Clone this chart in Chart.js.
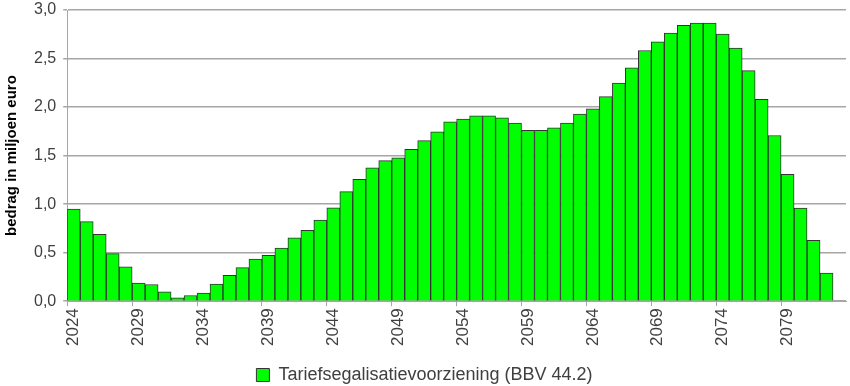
<!DOCTYPE html>
<html>
<head>
<meta charset="utf-8">
<script src="https://cdn.jsdelivr.net/npm/chart.js@4/dist/chart.umd.min.js"></script>
<style>
    html, body { margin: 0; padding: 0; background: #fff; }
    #wrap { width: 850px; height: 386px; }
</style>
</head>
<body>
<div id="wrap"><canvas id="chart"></canvas></div>
<script>
// Data
const years = [];
for (let y = 2024; y <= 2083; y++) years.push(String(y));

const reserveValues = [
    0.95, 0.82, 0.69, 0.49, 0.355, 0.186, 0.172, 0.096, 0.034, 0.059,
    0.083, 0.176, 0.266, 0.345, 0.434, 0.472, 0.548, 0.652, 0.731, 0.835,
    0.962, 1.128, 1.255, 1.373, 1.448, 1.476, 1.565, 1.655, 1.745, 1.848,
    1.876, 1.91, 1.91, 1.89, 1.834, 1.759, 1.759, 1.786, 1.834, 1.927,
    1.983, 2.107, 2.248, 2.403, 2.583, 2.672, 2.762, 2.841, 2.866, 2.866,
    2.752, 2.607, 2.376, 2.079, 1.707, 1.307, 0.959, 0.628, 0.29, null
];

const yTicks = [0, 0.5, 1, 1.5, 2, 2.5, 3];

const fontFamily = 'Liberation Sans, Arial, sans-serif';
const textColor = '#404040';
const gridColor = '#a6a6a6';

const ctx = document.getElementById('chart').getContext('2d');
new Chart(ctx, {
    type: 'bar',
    data: {
        labels: years,
        datasets: [{
            label: 'Tariefsegalisatievoorziening (BBV 44.2)',
            data: reserveValues,
            backgroundColor: '#00ff00',
            borderColor: '#333333',
            borderWidth: 1,
            categoryPercentage: 1.0,
            barPercentage: 1.0
        }]
    },
    options: {
        responsive: true,
        maintainAspectRatio: false,
        animation: false,
        layout: { padding: { top: 10, right: 4, left: 3, bottom: -8 } },
        plugins: {
            tooltip: { enabled: false },
            legend: {
                position: 'bottom',
                labels: {
                    boxWidth: 13,
                    boxHeight: 13,
                    padding: 1,
                    color: textColor,
                    font: { family: fontFamily, size: 18 }
                }
            }
        },
        scales: {
            x: {
                offset: true,
                border: { color: gridColor, width: 1 },
                grid: {
                    offset: true,
                    drawOnChartArea: false,
                    drawTicks: true,
                    tickLength: 5,
                    color: (c) => (c.index % 5 === 0 ? gridColor : 'rgba(0,0,0,0)')
                },
                ticks: {
                    autoSkip: false,
                    minRotation: 90,
                    maxRotation: 90,
                    padding: 2,
                    color: textColor,
                    font: { family: fontFamily, size: 17 },
                    callback: function (value, index) {
                        return index % 5 === 0 ? this.getLabelForValue(value) : '';
                    }
                },
                afterFit: (scale) => {
                    scale.paddingLeft = 0;
                    scale.paddingRight = 0;
                    scale.paddingTop = 0;
                    scale.paddingBottom = 0;
                    scale.height += 17;
                }
            },
            y: {
                min: 0,
                max: 3,
                afterBuildTicks: (axis) => { axis.ticks = yTicks.map(v => ({ value: v })); },
                afterFit: (scale) => { scale.paddingTop = 0; scale.paddingBottom = 0; },
                border: { color: gridColor, width: 1 },
                grid: { color: gridColor, lineWidth: 1.5, tickLength: 4 },
                ticks: {
                    color: textColor,
                    padding: 7,
                    font: { family: fontFamily, size: 16 },
                    callback: (v) => v.toFixed(1).replace('.', ',')
                },
                title: {
                    display: true,
                    text: 'bedrag in miljoen euro',
                    color: '#000000',
                    padding: { top: 0, bottom: 6 },
                    font: { family: fontFamily, size: 15, weight: 'bold' }
                }
            }
        }
    }
});
</script>
</body>
</html>
